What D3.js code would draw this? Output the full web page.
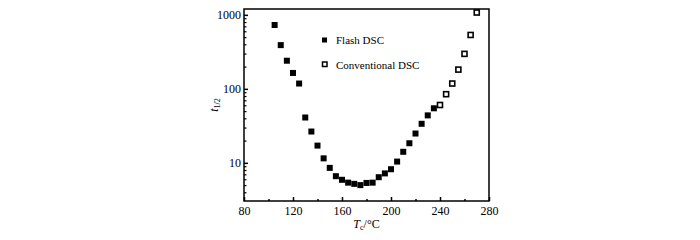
<!DOCTYPE html>
<html>
<head>
<meta charset="utf-8">
<script src="https://cdn.jsdelivr.net/npm/d3@7"></script>
<style>
  body { margin: 0; background: #fff; }
  text { font-family: "Liberation Serif", "Times New Roman", serif; fill: #000; }
</style>
</head>
<body>
<div id="chart"></div>
<script>
// Flash DSC: crystallization temperature vs half time
const flashT = [105, 110, 115, 120, 125, 130, 135, 140, 145, 150, 155, 160, 165, 170,
  175, 180, 185, 190, 195, 200, 205, 210, 215, 220, 225, 230, 235];
const flashHalf = [730, 390, 240, 164, 118, 41, 26.5, 17.1, 11.5, 8.55, 6.6, 5.9, 5.4, 5.2,
  5.0, 5.35, 5.4, 6.4, 7.2, 8.2, 10.4, 14.1, 18.4, 24.9, 33.7, 43.8, 54.6];
// Conventional DSC
const convT = [240, 245, 250, 255, 260, 265, 270];
const convHalf = [60.5, 84.7, 118, 182, 297, 535, 1075];

const xTicks = [80, 120, 160, 200, 240, 280];
const yTicks = [10, 100, 1000];

const width = 700, height = 240;
const margin = { top: 9, right: 211, bottom: 39, left: 244 };

const svg = d3.select("#chart").append("svg")
  .attr("width", width)
  .attr("height", height)
  .attr("viewBox", [0, 0, width, height]);

const x = d3.scaleLinear()
  .domain([80, 280])
  .range([margin.left, width - margin.right]);

const y = d3.scaleLog()
  .domain([3.05, 1200])
  .range([height - margin.bottom, margin.top]);

// bottom axis: major + minor ticks pointing inward
const xMinor = d3.range(100, 280, 40);
svg.append("g")
  .attr("transform", `translate(0,${height - margin.bottom})`)
  .call(d3.axisBottom(x).tickValues(xMinor).tickSize(-2).tickFormat(""))
  .call(g => g.select(".domain").remove())
  .call(g => g.selectAll("line").attr("stroke-width", 1.5));

svg.append("g")
  .attr("transform", `translate(0,${height - margin.bottom})`)
  .call(d3.axisBottom(x).tickValues(xTicks).tickSize(-4).tickPadding(5).tickFormat(d3.format("d")))
  .call(g => g.select(".domain").remove())
  .call(g => g.selectAll("line").attr("stroke-width", 1.5))
  .call(g => g.selectAll("text").attr("font-size", 12).attr("font-family", "Liberation Serif"));

// left axis: log ticks
const yMinor = [];
[1, 10, 100].forEach(dec => {
  for (let k = 2; k <= 9; k++) {
    const v = dec * k;
    if (v >= 3.05 && v <= 1200) yMinor.push(v);
  }
});
svg.append("g")
  .attr("transform", `translate(${margin.left},0)`)
  .call(d3.axisLeft(y).tickValues(yMinor).tickSize(-2.5).tickFormat(""))
  .call(g => g.select(".domain").remove())
  .call(g => g.selectAll("line").attr("stroke-width", 1.2));

svg.append("g")
  .attr("transform", `translate(${margin.left},0)`)
  .call(d3.axisLeft(y).tickValues(yTicks).tickSize(-4).tickPadding(3).tickFormat(d3.format("d")))
  .call(g => g.select(".domain").remove())
  .call(g => g.selectAll("line").attr("stroke-width", 1.5))
  .call(g => g.selectAll("text").attr("font-size", 12).attr("font-family", "Liberation Serif"));

// frame
svg.append("rect")
  .attr("x", margin.left)
  .attr("y", margin.top)
  .attr("width", width - margin.left - margin.right)
  .attr("height", height - margin.top - margin.bottom)
  .attr("fill", "none")
  .attr("stroke", "#000")
  .attr("stroke-width", 1.5);

const s = 6;
// flash points (filled)
svg.append("g")
  .selectAll("rect")
  .data(flashT)
  .join("rect")
  .attr("x", (d, i) => x(d) - s / 2)
  .attr("y", (d, i) => y(flashHalf[i]) - s / 2)
  .attr("width", s)
  .attr("height", s)
  .attr("fill", "#000");

// conventional points (open)
svg.append("g")
  .selectAll("rect")
  .data(convT)
  .join("rect")
  .attr("x", (d, i) => x(d) - 2.5)
  .attr("y", (d, i) => y(convHalf[i]) - 2.5)
  .attr("width", 5)
  .attr("height", 5)
  .attr("fill", "#fff")
  .attr("stroke", "#000")
  .attr("stroke-width", 1.6);

// legend
const legend = svg.append("g");
legend.append("rect")
  .attr("x", 322).attr("y", 37.5).attr("width", 5).attr("height", 5).attr("fill", "#000");
legend.append("text")
  .attr("x", 336).attr("y", 44).attr("font-size", 11).text("Flash DSC");
legend.append("rect")
  .attr("x", 322.5).attr("y", 62).attr("width", 4.5).attr("height", 4.5)
  .attr("fill", "#fff").attr("stroke", "#000").attr("stroke-width", 1.5);
legend.append("text")
  .attr("x", 336).attr("y", 68.5).attr("font-size", 11).text("Conventional DSC");

// axis titles
const xt = svg.append("text")
  .attr("x", x(180))
  .attr("y", 228)
  .attr("text-anchor", "middle")
  .attr("font-size", 12);
xt.append("tspan").attr("font-style", "italic").text("T");
xt.append("tspan").attr("font-size", 8).attr("dy", 2).text("c");
xt.append("tspan").attr("dy", -2).text("/°C");

const yt = svg.append("text")
  .attr("transform", `translate(218,${(margin.top + height - margin.bottom) / 2}) rotate(-90)`)
  .attr("text-anchor", "middle")
  .attr("font-size", 12);
yt.append("tspan").attr("font-style", "italic").text("t");
yt.append("tspan").attr("font-size", 8).attr("dy", 2).text("1/2");
</script>
</body>
</html>
